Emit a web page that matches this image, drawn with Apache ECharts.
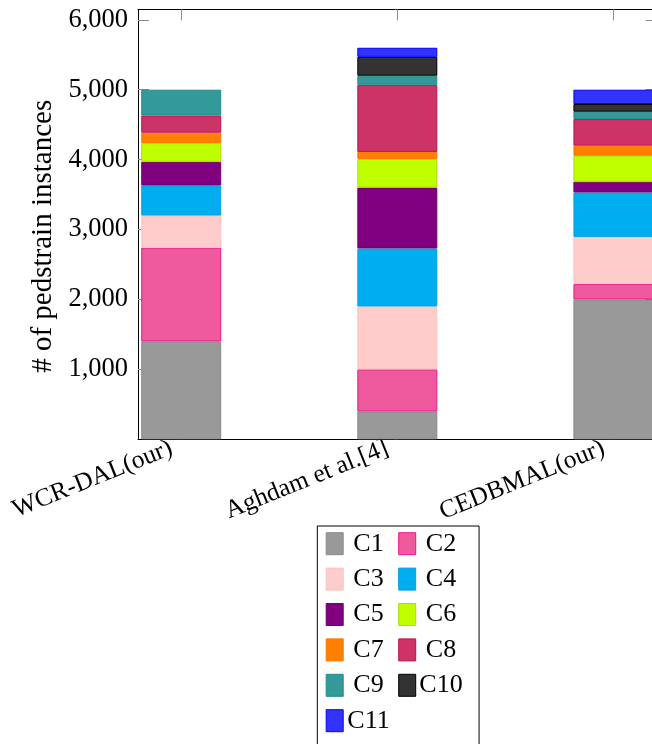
<!DOCTYPE html>
<html>
<head>
<meta charset="utf-8">
<script src="https://cdn.jsdelivr.net/npm/echarts@6/dist/echarts.min.js"></script>
<style>
  html, body { margin: 0; padding: 0; background: #fff; }
  #chart { width: 652px; height: 744px; }
</style>
</head>
<body>
<div id="chart"></div>
<script>
// Methods compared
const methods = ['WCR-DAL(our)', 'Aghdam et al.[4]', 'CEDBMAL(our)'];
const classNames = ['C1', 'C2', 'C3', 'C4', 'C5', 'C6', 'C7', 'C8', 'C9', 'C10', 'C11'];

// Pedestrian instances per class, one value per method
const c1  = [1400,  400, 2000];
const c2  = [1340,  600,  220];
const c3  = [ 460,  900,  675];
const c4  = [ 430,  830,  635];
const c5  = [ 340,  870,  155];
const c6  = [ 265,  410,  370];
const c7  = [ 150,  100,  145];
const c8  = [ 245,  960,  380];
const c9  = [ 370,  130,  105];
const c10 = [   0,  270,  110];
const c11 = [   0,  130,  205];

// Y axis ticks
const yTickValues = [1000, 2000, 3000, 4000, 5000, 6000];
const yTickLabels = ['1,000', '2,000', '3,000', '4,000', '5,000', '6,000'];

const classValues = [c1, c2, c3, c4, c5, c6, c7, c8, c9, c10, c11];

// Fill and outline colours per class
const fills   = ['#999999', '#EF5A9F', '#FFCCCC', '#00AEEF', '#800080', '#BFFF00',
                 '#FF8000', '#CC3366', '#339999', '#333333', '#3333FF'];
const strokes = ['#8A8A8A', '#E8188C', '#FFC0C0', '#00A2E2', '#6C006C', '#A9E000',
                 '#FF7400', '#C0124F', '#208C8C', '#000000', '#0000FF'];

const FONT = "'Liberation Serif', 'DejaVu Serif', serif";
const FS = 26.5;
const yMax = 6150;

// Layout: the bar grid uses 216px bands; the frame grid is the visible plot box
const PLOT_TOP = 9.3, PLOT_H = 430;
const BAND = 216.1;
const FRAME_LEFT = 138, FRAME_W = 518.6;
const BAR_LEFT = FRAME_LEFT + 0.2 * BAND - BAND / 2;

const chart = echarts.init(document.getElementById('chart'), null, { renderer: 'canvas' });

const series = classNames.map((name, i) => ({
  name: name,
  type: 'bar',
  stack: 'total',
  barWidth: 80,
  xAxisIndex: 0,
  yAxisIndex: 0,
  data: classValues[i].map(v => (v > 0 ? v : '-')),
  itemStyle: { color: fills[i], borderColor: strokes[i], borderWidth: 1 },
  emphasis: { disabled: true },
  animation: false
}));

const tickStyle = { color: '#8c8c8c', width: 1 };
const lineStyle = { color: '#000', width: 1 };

chart.setOption({
  animation: false,
  backgroundColor: '#fff',
  grid: [
    { left: BAR_LEFT, top: PLOT_TOP, width: 3 * BAND, height: PLOT_H, containLabel: false, outerBoundsMode: 'none' },
    { left: FRAME_LEFT, top: PLOT_TOP, width: FRAME_W, height: PLOT_H, containLabel: false, outerBoundsMode: 'none' }
  ],
  xAxis: [
    {
      type: 'category',
      gridIndex: 0,
      data: methods,
      position: 'bottom',
      boundaryGap: true,
      axisLine: { show: false },
      axisTick: { show: true, inside: true, alignWithLabel: true, length: 11, lineStyle: tickStyle },
      axisLabel: {
        show: true,
        interval: 0,
        rotate: 22,
        margin: 4,
        padding: [0, 10.7, 0, 0],
        fontFamily: FONT,
        fontSize: 25.5,
        color: '#000'
      },
      splitLine: { show: false }
    },
    {
      type: 'category',
      gridIndex: 0,
      data: methods,
      position: 'top',
      boundaryGap: true,
      axisLine: { show: false },
      axisTick: { show: true, inside: true, alignWithLabel: true, length: 11, lineStyle: tickStyle },
      axisLabel: { show: false },
      splitLine: { show: false }
    },
    {
      type: 'value',
      gridIndex: 1,
      min: 0, max: 1,
      position: 'bottom',
      axisLine: { show: true, onZero: false, lineStyle: lineStyle },
      axisTick: { show: false },
      axisLabel: { show: false },
      splitLine: { show: false }
    },
    {
      type: 'value',
      gridIndex: 1,
      min: 0, max: 1,
      position: 'top',
      axisLine: { show: true, onZero: false, lineStyle: lineStyle },
      axisTick: { show: false },
      axisLabel: { show: false },
      splitLine: { show: false }
    }
  ],
  yAxis: [
    {
      type: 'value',
      gridIndex: 0,
      min: 0, max: yMax,
      show: false
    },
    {
      type: 'value',
      gridIndex: 1,
      min: 0, max: yMax,
      position: 'left',
      name: '# of pedstrain instances',
      nameLocation: 'middle',
      nameRotate: 90,
      nameGap: 80,
      nameTextStyle: { fontFamily: FONT, fontSize: 29, color: '#000', padding: [0, 24, 0, 0] },
      axisLine: { show: true, onZero: false, lineStyle: lineStyle },
      axisTick: { show: true, inside: true, length: 11, customValues: yTickValues, lineStyle: tickStyle },
      axisLabel: {
        show: true,
        customValues: yTickValues,
        formatter: v => yTickLabels[yTickValues.indexOf(v)],
        margin: 10,
        fontFamily: FONT,
        fontSize: FS,
        color: '#000'
      },
      splitLine: { show: false }
    },
    {
      type: 'value',
      gridIndex: 1,
      min: 0, max: yMax,
      position: 'right',
      axisLine: { show: true, onZero: false, lineStyle: lineStyle },
      axisTick: { show: true, inside: true, length: 11, customValues: yTickValues, lineStyle: tickStyle },
      axisLabel: { show: false },
      splitLine: { show: false }
    }
  ],
  legend: {
    data: classNames,
    orient: 'horizontal',
    left: 317.3,
    top: 526,
    width: 140,
    padding: [4.7, 16.4, 20, 8.4],
    itemGap: 9.4,
    itemWidth: 17,
    itemHeight: 22,
    icon: 'rect',
    itemStyle: { borderWidth: 1 },
    borderColor: '#000',
    borderWidth: 1,
    backgroundColor: '#fff',
    selectedMode: false,
    formatter: '{n|{name}}',
    textStyle: {
      fontFamily: FONT,
      fontSize: 26,
      color: '#000',
      rich: {
        n: { width: 40.6, height: 26, lineHeight: 26, align: 'center', fontFamily: FONT, fontSize: 26, color: '#000' }
      }
    }
  },
  series: series
});
</script>
</body>
</html>
